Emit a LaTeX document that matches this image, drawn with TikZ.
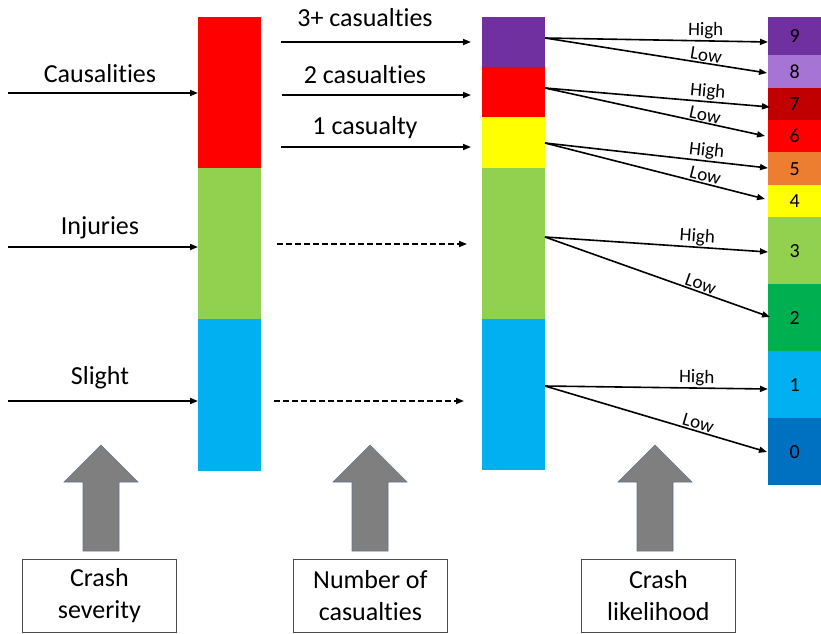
\documentclass[tikz,border=0pt]{standalone}
\usepackage{fontspec}
\setmainfont{Carlito}[Ligatures=NoCommon]
\usetikzlibrary{arrows.meta}

\definecolor{cPurple}{HTML}{7030A0}
\definecolor{cLilac}{HTML}{A674D4}
\definecolor{cDarkRed}{HTML}{C00000}
\definecolor{cRed}{HTML}{FF0000}
\definecolor{cOrange}{HTML}{ED7D31}
\definecolor{cYellow}{HTML}{FFFF00}
\definecolor{cLime}{HTML}{92D050}
\definecolor{cGreen}{HTML}{00B050}
\definecolor{cSky}{HTML}{00B0F0}
\definecolor{cBlue}{HTML}{0070C0}
\definecolor{cGrey}{HTML}{7F7F7F}
\definecolor{cEdge}{HTML}{5F7390}

\tikzset{
  seg/.style={draw=none, inner sep=0pt, anchor=north west},
  cell/.style={draw=none, inner sep=0pt, anchor=north west, minimum width=53pt,
               font=\fontsize{20}{20}\selectfont},
  mainlabel/.style={font=\fontsize{26}{26}\selectfont, inner sep=0pt},
  flow/.style={line width=1.6pt, -{Triangle[length=8pt,width=6pt]}},
  dflow/.style={flow, dash pattern=on 6pt off 3pt},
  branch/.style={line width=1.6pt, -{Triangle[length=8pt,width=6pt]}},
  hl/.style={font=\fontsize{19}{19}\selectfont, sloped, above, pos=0.72, inner sep=1pt},
  bigarrow/.style={fill=cGrey, draw=cEdge, line width=0.6pt},
  legend/.style={draw=black!70, line width=0.8pt, minimum width=154pt, minimum height=73pt,
                 align=center, inner sep=0pt, font=\fontsize{26}{32}\selectfont},
}

\begin{document}
\begin{tikzpicture}[x=1pt,y=-1pt]
\path[use as bounding box] (0,0) rectangle (821,633);

% ---- crash severity column
\node[seg, fill=cRed,  minimum width=63pt, minimum height=151pt] (L1) at (198,17)  {};
\node[seg, fill=cLime, minimum width=63pt, minimum height=151pt] (L2) at (198,168) {};
\node[seg, fill=cSky,  minimum width=63pt, minimum height=152pt] (L3) at (198,319) {};

% ---- number of casualties column
\node[seg, fill=cPurple, minimum width=63pt, minimum height=50pt]  (M1) at (482,17)  {};
\node[seg, fill=cRed,    minimum width=63pt, minimum height=50pt]  (M2) at (482,67)  {};
\node[seg, fill=cYellow, minimum width=63pt, minimum height=51pt]  (M3) at (482,117) {};
\node[seg, fill=cLime,   minimum width=63pt, minimum height=151pt] (M4) at (482,168) {};
\node[seg, fill=cSky,    minimum width=63pt, minimum height=151pt] (M5) at (482,319) {};

% ---- crash likelihood scale
\node[cell, fill=cPurple,  minimum height=38pt] (n9) at (768,17)  {9};
\node[cell, fill=cLilac,   minimum height=33pt] (n8) at (768,55)  {8};
\node[cell, fill=cDarkRed, minimum height=32pt] (n7) at (768,88)  {7};
\node[cell, fill=cRed,     minimum height=32pt] (n6) at (768,120) {6};
\node[cell, fill=cOrange,  minimum height=33pt] (n5) at (768,152) {5};
\node[cell, fill=cYellow,  minimum height=32pt] (n4) at (768,185) {4};
\node[cell, fill=cLime,    minimum height=67pt] (n3) at (768,217) {3};
\node[cell, fill=cGreen,   minimum height=67pt] (n2) at (768,284) {2};
\node[cell, fill=cSky,     minimum height=67pt] (n1) at (768,351) {1};
\node[cell, fill=cBlue,    minimum height=67pt] (n0) at (768,418) {0};

% ---- severity inputs
\coordinate (sC) at (8,93);
\coordinate (sI) at (8,247);
\coordinate (sS) at (8,401);
\draw[flow] (sC) -- (sC -| L1.west);
\draw[flow] (sI) -- (sI -| L2.west);
\draw[flow] (sS) -- (sS -| L3.west);
\node[mainlabel] (tC) at (100,74)  {Causalities};
\node[mainlabel] (tI) at (100,228) {Injuries};
\node[mainlabel] (tS) at (100,378) {Slight};

% ---- casualty-count inputs
\coordinate (a1) at (281,42);  \coordinate (b1) at (471,42);
\coordinate (a2) at (282,95);  \coordinate (b2) at (471,95);
\coordinate (a3) at (281,147); \coordinate (b3) at (471,147);
\coordinate (a4) at (277,244); \coordinate (b4) at (467,244);
\coordinate (a5) at (274,401); \coordinate (b5) at (464,401);
\draw[flow] (a1) -- (b1);
\draw[flow] (a2) -- (b2);
\draw[flow] (a3) -- (b3);
\draw[dflow] (a4) -- (b4);
\draw[dflow] (a5) -- (b5);
\node[mainlabel] (t1) at (365,18)  {3+ casualties};
\node[mainlabel] (t2) at (365,75)  {2 casualties};
\node[mainlabel] (t3) at (365,128) {1 casualty};

% ---- likelihood branches
\coordinate (p1) at (545,38);
\coordinate (p2) at (545,88);
\coordinate (p3) at (545,143);
\coordinate (p4) at (545,237);
\coordinate (p5) at (545,386);
\coordinate (q9) at (768,42);
\coordinate (q8) at (767,73);
\coordinate (q7) at (770,107);
\coordinate (q6) at (765,136);
\coordinate (q5) at (768,168);
\coordinate (q4) at (765,199);
\coordinate (q3) at (768,252);
\coordinate (q2) at (770,317);
\coordinate (q1) at (768,389);
\coordinate (q0) at (767,452);
\draw[branch] (p1) -- node[hl] {High} (q9);
\draw[branch] (p1) -- node[hl] {Low}  (q8);
\draw[branch] (p2) -- node[hl] {High} (q7);
\draw[branch] (p2) -- node[hl] {Low}  (q6);
\draw[branch] (p3) -- node[hl] {High} (q5);
\draw[branch] (p3) -- node[hl] {Low}  (q4);
\draw[branch] (p4) -- node[hl, pos=0.68] {High} (q3);
\draw[branch] (p4) -- node[hl, pos=0.68] {Low}  (q2);
\draw[branch] (p5) -- node[hl, pos=0.68] {High} (q1);
\draw[branch] (p5) -- node[hl, pos=0.68] {Low}  (q0);

% ---- block arrows pointing up at each column
\foreach \cx in {101,370,655}{
  \draw[bigarrow] (\cx-18,551) -- (\cx-18,482) -- (\cx-37,482) -- (\cx,445)
                  -- (\cx+37,482) -- (\cx+18,482) -- (\cx+18,551) -- cycle;
}

% ---- captions
\node[legend, anchor=north west] (k1) at (22,559)  {Crash\\severity};
\node[legend, anchor=north west] (k2) at (293,559) {Number of\\casualties};
\node[legend, anchor=north west] (k3) at (581,559) {Crash\\likelihood};
\end{tikzpicture}
\end{document}
